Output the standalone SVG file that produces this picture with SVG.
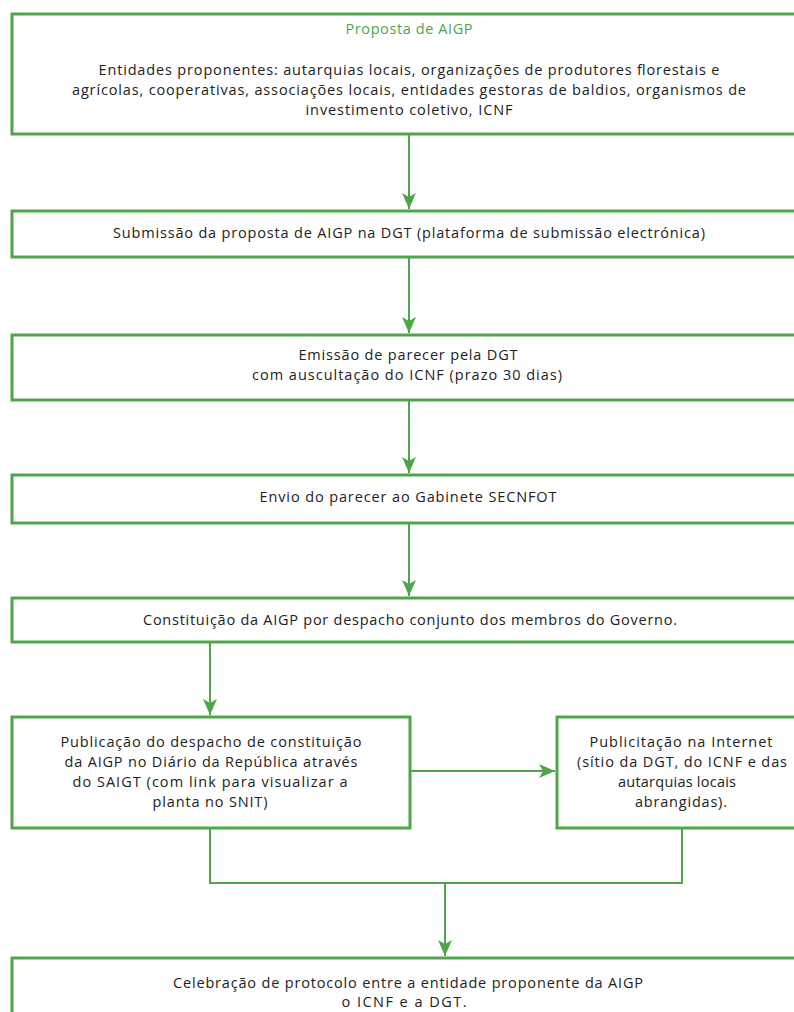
<svg xmlns="http://www.w3.org/2000/svg" width="794" height="1012" viewBox="0 0 794 1012">
<defs>
<style>
.box{fill:#fff;stroke:#4ea64a;stroke-width:3}
.t{font-family:"Open Sans","Liberation Sans",Arial,sans-serif;font-size:14.5px;fill:#222;text-anchor:middle}
.g{fill:#4ea64a}
.c{fill:none;stroke:#4ea64a;stroke-width:2}
</style>
<marker id="ah" markerWidth="16" markerHeight="14" refX="16" refY="7" orient="auto" markerUnits="userSpaceOnUse">
<path d="M0,0 L16,7 L0,14 L4,7 Z" fill="#4ea64a"/>
</marker>
</defs>
<rect width="794" height="1012" fill="#fff"/>
<g id="connectors">
<line class="c" x1="409" y1="135" x2="409" y2="209" marker-end="url(#ah)"/>
<line class="c" x1="409" y1="258" x2="409" y2="333" marker-end="url(#ah)"/>
<line class="c" x1="409" y1="401" x2="409" y2="473" marker-end="url(#ah)"/>
<line class="c" x1="409" y1="524" x2="409" y2="596" marker-end="url(#ah)"/>
<line class="c" x1="210" y1="643" x2="210" y2="715" marker-end="url(#ah)"/>
<line class="c" x1="411" y1="771" x2="555" y2="771" marker-end="url(#ah)"/>
<polyline class="c" points="210,829 210,883 682,883 682,829"/>
<line class="c" x1="445" y1="883" x2="445" y2="956" marker-end="url(#ah)"/>
</g>
<g id="n1">
<rect class="box" x="12" y="14" width="794" height="120"/>
<text class="t g" x="409" y="34" textLength="127">Proposta de AIGP</text>
<text class="t" x="409" y="75" textLength="621">Entidades proponentes: autarquias locais, organizações de produtores florestais e</text>
<text class="t" x="409" y="95" textLength="674">agrícolas, cooperativas, associações locais, entidades gestoras de baldios, organismos de</text>
<text class="t" x="409" y="115" textLength="207">investimento coletivo, ICNF</text>
</g>
<g id="n2">
<rect class="box" x="12" y="211" width="794" height="46"/>
<text class="t" x="409" y="238" textLength="592">Submissão da proposta de AIGP na DGT (plataforma de submissão electrónica)</text>
</g>
<g id="n3">
<rect class="box" x="12" y="335" width="794" height="65"/>
<text class="t" x="408" y="360" textLength="219">Emissão de parecer pela DGT</text>
<text class="t" x="407" y="380" textLength="310">com auscultação do ICNF (prazo 30 dias)</text>
</g>
<g id="n4">
<rect class="box" x="12" y="475" width="794" height="48"/>
<text class="t" x="408" y="502" textLength="297">Envio do parecer ao Gabinete SECNFOT</text>
</g>
<g id="n5">
<rect class="box" x="12" y="598" width="794" height="44"/>
<text class="t" x="410" y="625" textLength="534">Constituição da AIGP por despacho conjunto dos membros do Governo.</text>
</g>
<g id="n6">
<rect class="box" x="12" y="717" width="398" height="111"/>
<text class="t" x="211" y="747" textLength="301">Publicação do despacho de constituição</text>
<text class="t" x="211" y="767" textLength="293">da AIGP no Diário da República através</text>
<text class="t" x="210" y="787" textLength="275">do SAIGT (com link para visualizar a</text>
<text class="t" x="210" y="807" textLength="115">planta no SNIT)</text>
</g>
<g id="n7">
<rect class="box" x="557" y="717" width="249" height="111"/>
<text class="t" x="681" y="747" textLength="183">Publicitação na Internet</text>
<text class="t" x="682" y="767" textLength="210">(sítio da DGT, do ICNF e das</text>
<text class="t" x="677" y="787" textLength="118">autarquias locais</text>
<text class="t" x="681" y="807" textLength="92">abrangidas).</text>
</g>
<g id="n8">
<rect class="box" x="12" y="958" width="794" height="80"/>
<text class="t" x="408" y="988" textLength="470">Celebração de protocolo entre a entidade proponente da AIGP</text>
<text class="t" x="404" y="1007" textLength="125">o ICNF e a DGT.</text>
</g>
</svg>
